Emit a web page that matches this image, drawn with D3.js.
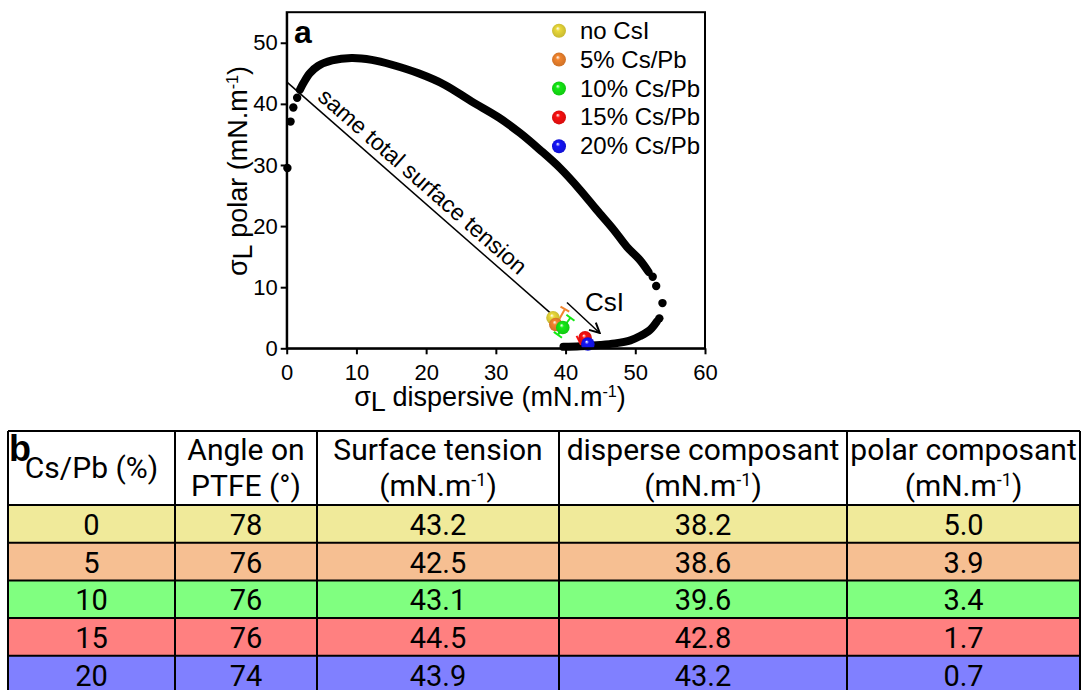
<!DOCTYPE html>
<html>
<head>
<meta charset="utf-8">
<script src="https://cdn.jsdelivr.net/npm/d3@7"></script>
<style>
  body { margin: 0; background: #fff; }
  svg { display: block; }
</style>
</head>
<body>
<svg id="fig" width="1083" height="690"></svg>
<script>
// ---------- data ----------
const seriesNames = ["no CsI", "5% Cs/Pb", "10% Cs/Pb", "15% Cs/Pb", "20% Cs/Pb"];
const seriesColors = ["#ead93a", "#f2852e", "#14ea14", "#fa1010", "#1414f8"];
const dispersive = [38.2, 38.6, 39.6, 42.8, 43.2];
const polar = [5.0, 3.9, 3.4, 1.7, 0.7];

// error bars: series index, x1, y1, x2, y2
const errorBars = [
  [1, 38.9, 4.4, 39.9, 6.4],
  [2, 38.9, 2.2, 40.7, 5.0],
  [3, 41.9, 1.3, 42.6, 1.7]
];

// wetting envelope (dense part of the dotted curve)
const upperBranch = [
  [1.9, 42.3], [2.4, 43.4], [3.3, 45.0], [4.5, 46.2], [6.5, 47.1], [9.3, 47.5],
  [12.2, 47.2], [15.1, 46.4], [18.9, 45.0], [22.7, 43.1], [26.5, 40.4], [30.5, 37.7],
  [33.5, 35.2], [36.3, 32.5], [39.2, 29.5], [42.1, 25.9], [44.5, 22.6], [46.9, 19.4],
  [48.8, 16.6], [50.7, 14.4], [51.9, 12.5]
];
const lowerBranch = [
  [53.1, 4.4], [52.1, 3.0], [50.7, 2.0], [49.3, 1.3], [47.1, 0.8], [45.0, 0.55],
  [42.1, 0.35], [39.7, 0.25]
];
// isolated dots at both ends of the envelope
const looseDots = [
  [0.1, 29.5], [0.55, 37.1], [0.95, 39.4], [1.5, 41.0],
  [52.5, 11.7], [53.0, 10.2], [53.9, 7.4], [53.45, 4.9]
];

const sameTotalLine = [[0, 43.6], [38.5, 5.1]];
const csiArrow = [[40.2, 7.5], [44.9, 2.5]];

const xTicks = [0, 10, 20, 30, 40, 50, 60];
const yTicks = [0, 10, 20, 30, 40, 50];

// table b
const headerLines = [
  ["Cs/Pb (%)"],
  ["Angle on", "PTFE (°)"],
  ["Surface tension", "(mN.m^{-1})"],
  ["disperse composant", "(mN.m^{-1})"],
  ["polar composant", "(mN.m^{-1})"]
];
const csPb = ["0", "5", "10", "15", "20"];
const angle = ["78", "76", "76", "76", "74"];
const surfTension = ["43.2", "42.5", "43.1", "44.5", "43.9"];
const disperseComp = ["38.2", "38.6", "39.6", "42.8", "43.2"];
const polarComp = ["5.0", "3.9", "3.4", "1.7", "0.7"];
const rowColors = ["#f0ea9a", "#f6bf92", "#80ff80", "#ff8080", "#8080ff"];

// ---------- helpers ----------
const svg = d3.select("#fig");
const arial = "'Liberation Sans', Arial, sans-serif";
const roboto = "Roboto, 'Noto Sans', sans-serif";

// text with ^{sup} and _{sub}
function rich(sel, str) {
  str.split(/(\^\{[^}]*\}|_\{[^}]*\})/).forEach(p => {
    if (!p) return;
    if (p.startsWith("^{")) {
      sel.append("tspan").attr("baseline-shift", "super").attr("font-size", "60%").text(p.slice(2, -1));
    } else if (p.startsWith("_{")) {
      sel.append("tspan").attr("baseline-shift", "-0.2em").text(p.slice(2, -1));
    } else {
      sel.append("tspan").text(p);
    }
  });
  return sel;
}

const defs = svg.append("defs");
seriesColors.forEach((c, i) => {
  const g = defs.append("radialGradient").attr("id", "ball" + i)
    .attr("cx", "50%").attr("cy", "50%").attr("r", "55%")
    .attr("fx", "40%").attr("fy", "32%");
  g.append("stop").attr("offset", "0%").attr("stop-color", "#ffffff");
  g.append("stop").attr("offset", "28%").attr("stop-color", c);
  g.append("stop").attr("offset", "100%").attr("stop-color", d3.color(c).darker(0.5));
});
defs.append("marker").attr("id", "arrow")
  .attr("viewBox", "0 0 12 12").attr("refX", 11).attr("refY", 6)
  .attr("markerWidth", 12).attr("markerHeight", 12).attr("markerUnits", "userSpaceOnUse")
  .attr("orient", "auto")
  .append("path").attr("d", "M1,1 L11,6 L1,11").attr("fill", "none")
  .attr("stroke", "#000").attr("stroke-width", 2);

// ---------- panel a ----------
const x = d3.scaleLinear().domain([0, 60]).range([286.7, 705]);
const y = d3.scaleLinear().domain([0, 55]).range([348.3, 12.2]);

const plot = svg.append("g");

// envelope
const line = d3.line().x(d => x(d[0])).y(d => y(d[1])).curve(d3.curveCatmullRom);
[upperBranch, lowerBranch].forEach(b => {
  plot.append("path").attr("d", line(b)).attr("fill", "none")
    .attr("stroke", "#000").attr("stroke-width", 8).attr("stroke-linecap", "round");
});
plot.selectAll(".dot").data(looseDots).enter().append("circle")
  .attr("cx", d => x(d[0])).attr("cy", d => y(d[1])).attr("r", 4.2).attr("fill", "#000");

// same total surface tension line + label
plot.append("line")
  .attr("x1", x(sameTotalLine[0][0])).attr("y1", y(sameTotalLine[0][1]))
  .attr("x2", x(sameTotalLine[1][0])).attr("y2", y(sameTotalLine[1][1]))
  .attr("stroke", "#000").attr("stroke-width", 1.5);
{
  const x1 = x(sameTotalLine[0][0]), y1 = y(sameTotalLine[0][1]);
  const x2 = x(sameTotalLine[1][0]), y2 = y(sameTotalLine[1][1]);
  const ang = Math.atan2(y2 - y1, x2 - x1);
  const f = 0.47, d = 7;
  const px = x1 + (x2 - x1) * f + Math.sin(ang) * d;
  const py = y1 + (y2 - y1) * f - Math.cos(ang) * d;
  plot.append("text")
    .attr("transform", `translate(${px},${py}) rotate(${ang * 180 / Math.PI})`)
    .attr("text-anchor", "middle").attr("font-family", arial).attr("font-size", 23)
    .text("same total surface tension");
}

// CsI arrow
plot.append("line")
  .attr("x1", x(csiArrow[0][0])).attr("y1", y(csiArrow[0][1]))
  .attr("x2", x(csiArrow[1][0])).attr("y2", y(csiArrow[1][1]))
  .attr("stroke", "#000").attr("stroke-width", 1.5).attr("marker-end", "url(#arrow)");
plot.append("text").attr("x", 585).attr("y", 311)
  .attr("font-family", arial).attr("font-size", 26).text("CsI");

// error bars
errorBars.forEach(([s, ex1, ey1, ex2, ey2]) => {
  const a1 = [x(ex1), y(ey1)], a2 = [x(ex2), y(ey2)];
  const ang = Math.atan2(a2[1] - a1[1], a2[0] - a1[0]);
  const nx = -Math.sin(ang) * 5, ny = Math.cos(ang) * 5;
  const g = plot.append("g").attr("stroke", seriesColors[s]).attr("stroke-width", 2);
  g.append("line").attr("x1", a1[0]).attr("y1", a1[1]).attr("x2", a2[0]).attr("y2", a2[1]);
  [a1, a2].forEach(p => g.append("line")
    .attr("x1", p[0] - nx).attr("y1", p[1] - ny).attr("x2", p[0] + nx).attr("y2", p[1] + ny));
});

// data balls
plot.selectAll(".ball").data(d3.range(seriesNames.length)).enter().append("circle")
  .attr("cx", i => x(dispersive[i])).attr("cy", i => y(polar[i]))
  .attr("r", 6.8).attr("fill", i => `url(#ball${i})`);

// legend
const leg = plot.append("g").attr("font-family", arial).attr("font-size", 24);
seriesNames.forEach((n, i) => {
  const ly = 30.7 + i * 28.9;
  leg.append("circle").attr("cx", 559).attr("cy", ly).attr("r", 7).attr("fill", `url(#ball${i})`);
  leg.append("text").attr("x", 580).attr("y", ly + 8).text(n);
});

// frame
plot.append("rect").attr("x", x(0)).attr("y", y(55))
  .attr("width", x(60) - x(0)).attr("height", y(0) - y(55))
  .attr("fill", "none").attr("stroke", "#000").attr("stroke-width", 2);

// axes
const xAxis = plot.append("g").attr("transform", `translate(0,${y(0)})`)
  .call(d3.axisBottom(x).tickValues(xTicks).tickSize(6).tickSizeOuter(0).tickPadding(10));
const yAxis = plot.append("g").attr("transform", `translate(${x(0)},0)`)
  .call(d3.axisLeft(y).tickValues(yTicks).tickSize(6).tickSizeOuter(0).tickPadding(3));
[xAxis, yAxis].forEach(a => {
  a.attr("font-family", arial).attr("font-size", 22);
  a.select(".domain").attr("stroke-width", 2);
  a.selectAll(".tick line").attr("stroke-width", 2);
  a.selectAll(".tick text").attr("fill", "#000");
});

rich(plot.append("text").attr("x", 490).attr("y", 406).attr("text-anchor", "middle")
  .attr("font-family", arial).attr("font-size", 27), "σ_{L} dispersive (mN.m^{-1})");
rich(plot.append("text").attr("transform", "translate(247,171) rotate(-90)").attr("text-anchor", "middle")
  .attr("font-family", arial).attr("font-size", 27), "σ_{L} polar (mN.m^{-1})");

plot.append("text").attr("x", 294).attr("y", 43).attr("font-family", arial)
  .attr("font-weight", "bold").attr("font-size", 32).text("a");

// ---------- panel b : table ----------
const colEdges = [8, 175, 317, 559, 847, 1080];
const headTop = 431, headBot = 505, rowH = 37.7;
const tableCols = [csPb, angle, surfTension, disperseComp, polarComp];
const tbl = svg.append("g").attr("font-family", roboto).attr("font-size", 30).attr("fill", "#000");

rowColors.forEach((c, r) => {
  tbl.append("rect").attr("x", colEdges[0]).attr("y", headBot + r * rowH)
    .attr("width", colEdges[5] - colEdges[0]).attr("height", rowH).attr("fill", c);
});

headerLines.forEach((lines, c) => {
  const cx = (colEdges[c] + colEdges[c + 1]) / 2;
  const mid = (headTop + headBot) / 2;
  lines.forEach((t, k) => {
    const by = mid + 10 + (k - (lines.length - 1) / 2) * 36;
    rich(tbl.append("text").attr("x", cx).attr("y", by).attr("text-anchor", "middle"), t);
  });
});

tableCols.forEach((vals, c) => {
  const cx = (colEdges[c] + colEdges[c + 1]) / 2;
  vals.forEach((v, r) => {
    tbl.append("text").attr("x", cx).attr("y", headBot + r * rowH + 30)
      .attr("text-anchor", "middle").attr("font-size", 29).text(v);
  });
});

const tableBottom = headBot + rowH * rowColors.length;
const grid = tbl.append("g").attr("stroke", "#000").attr("stroke-width", 2);
colEdges.forEach(e => grid.append("line").attr("x1", e).attr("x2", e)
  .attr("y1", headTop).attr("y2", tableBottom));
[headTop, ...d3.range(rowColors.length + 1).map(r => headBot + r * rowH)].forEach(h =>
  grid.append("line").attr("x1", colEdges[0]).attr("x2", colEdges[5]).attr("y1", h).attr("y2", h));

svg.append("text").attr("x", 9).attr("y", 461).attr("font-family", arial)
  .attr("font-weight", "bold").attr("font-size", 36).text("b");
</script>
</body>
</html>
